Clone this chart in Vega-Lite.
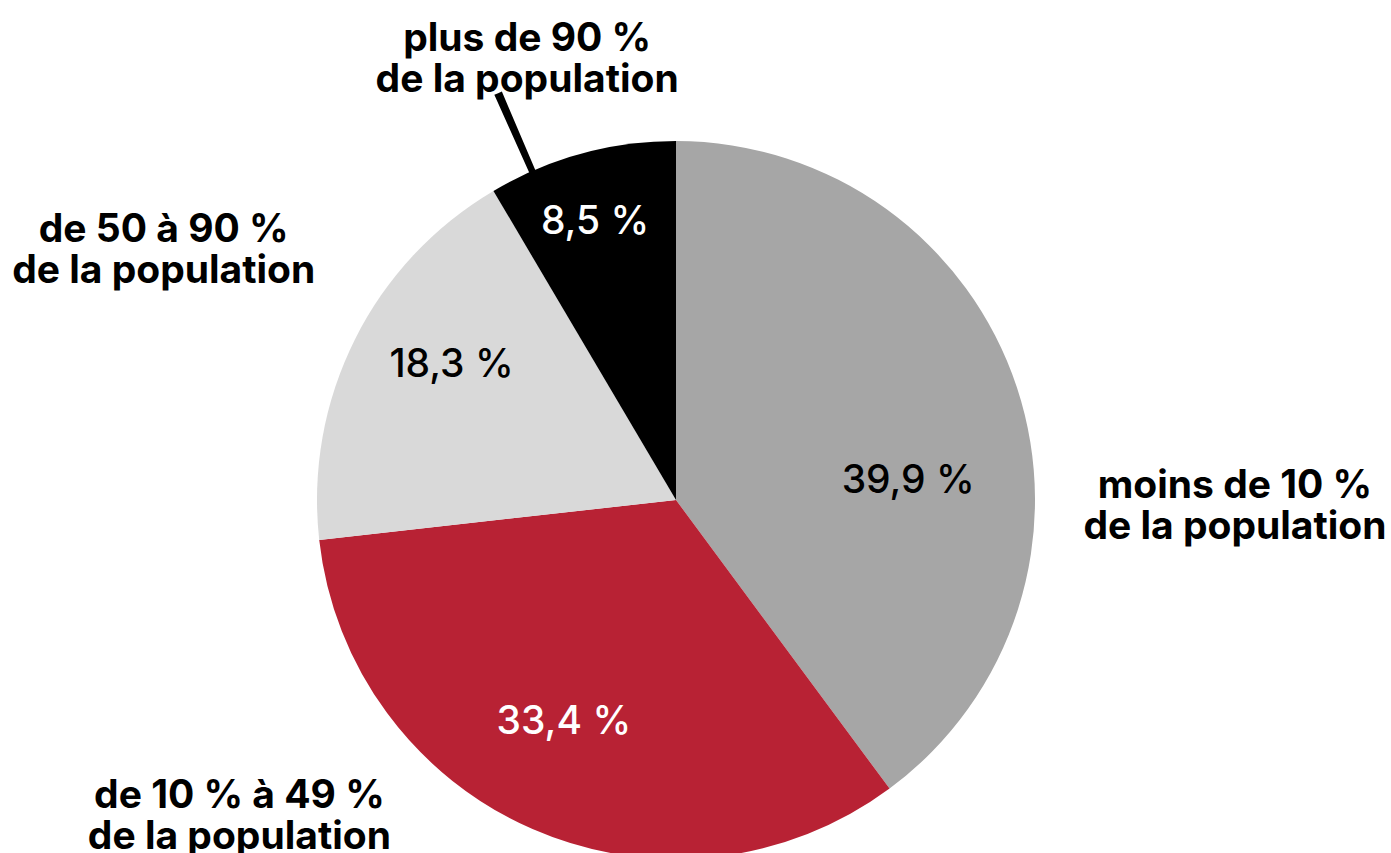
{
  "$schema": "https://vega.github.io/schema/vega-lite/v6.json",
  "width": 1352,
  "height": 706,
  "autosize": {"type": "none"},
  "padding": {"left": 0, "top": 147, "right": 39, "bottom": 0},
  "background": "white",
  "config": {"view": {"stroke": null}, "text": {"font": "Inter"}},
  "data": {
    "values": [
      {"ord": 1, "cat": "moins de 10 %", "label": "moins de 10 %\nde la population", "pct": 39.9, "val": "39,9 %"},
      {"ord": 2, "cat": "de 10 % à 49 %", "label": "de 10 % à 49 %\nde la population", "pct": 33.4, "val": "33,4 %"},
      {"ord": 3, "cat": "de 50 à 90 %", "label": "de 50 à 90 %\nde la population", "pct": 18.3, "val": "18,3 %"},
      {"ord": 4, "cat": "plus de 90 %", "label": "plus de 90 %\nde la population", "pct": 8.5, "val": "8,5 %"}
    ]
  },
  "encoding": {
    "theta": {"field": "pct", "type": "quantitative", "stack": true},
    "order": {"field": "ord", "type": "quantitative", "sort": "ascending"}
  },
  "layer": [
    {
      "mark": {"type": "arc", "radius": 359},
      "encoding": {
        "color": {"field": "cat", "type": "nominal", "legend": null,
          "scale": {"domain": ["moins de 10 %", "de 10 % à 49 %", "de 50 à 90 %", "plus de 90 %"],
                    "range": ["#a6a6a6", "#b82234", "#d9d9d9", "#000000"]}}
      }
    },
    {
      "transform": [
        {"stack": "pct", "groupby": [], "sort": [{"field": "ord", "order": "ascending"}], "as": ["s0", "s1"]}
      ],
      "mark": {"type": "arc", "radius": 444, "radius2": 352, "thetaOffset": 0.112, "theta2Offset": -0.403},
      "encoding": {
        "theta": {"field": "s0", "type": "quantitative", "stack": null},
        "theta2": {"field": "s1"},
        "fill": {"condition": {"test": "datum.ord === 4", "value": "#000000"}, "value": "transparent"}
      }
    },
    {
      "mark": {"type": "text", "radius": 233, "thetaOffset": 0.236, "fontSize": 39, "fontWeight": 500, "fill": "#000000"},
      "encoding": {"text": {"condition": {"test": "datum.ord === 1", "field": "val"}, "value": ""}}
    },
    {
      "mark": {"type": "text", "radius": 249, "thetaOffset": 0.056, "fontSize": 39, "fontWeight": 500, "fill": "#ffffff"},
      "encoding": {"text": {"condition": {"test": "datum.ord === 2", "field": "val"}, "value": ""}}
    },
    {
      "mark": {"type": "text", "radius": 262, "thetaOffset": 0.079, "fontSize": 39, "fontWeight": 500, "fill": "#000000"},
      "encoding": {"text": {"condition": {"test": "datum.ord === 3", "field": "val"}, "value": ""}}
    },
    {
      "mark": {"type": "text", "radius": 290, "thetaOffset": -0.016, "fontSize": 39, "fontWeight": 500, "fill": "#ffffff"},
      "encoding": {"text": {"condition": {"test": "datum.ord === 4", "field": "val"}, "value": ""}}
    },
    {
      "mark": {"type": "text", "radius": 559, "thetaOffset": 0.330, "dy": -20, "fontSize": 39, "fontWeight": "bold", "fill": "#000000", "lineBreak": "\n", "lineHeight": 41},
      "encoding": {"text": {"condition": {"test": "datum.ord === 1", "field": "label"}, "value": ""}}
    },
    {
      "mark": {"type": "text", "radius": 539, "thetaOffset": 0.533, "dy": -20, "fontSize": 39, "fontWeight": "bold", "fill": "#000000", "lineBreak": "\n", "lineHeight": 41},
      "encoding": {"text": {"condition": {"test": "datum.ord === 2", "field": "label"}, "value": ""}}
    },
    {
      "mark": {"type": "text", "radius": 570, "thetaOffset": -0.009, "dy": -20, "fontSize": 39, "fontWeight": "bold", "fill": "#000000", "lineBreak": "\n", "lineHeight": 41},
      "encoding": {"text": {"condition": {"test": "datum.ord === 3", "field": "label"}, "value": ""}}
    },
    {
      "mark": {"type": "text", "radius": 465, "thetaOffset": -0.059, "dy": -20, "fontSize": 39, "fontWeight": "bold", "fill": "#000000", "lineBreak": "\n", "lineHeight": 41},
      "encoding": {"text": {"condition": {"test": "datum.ord === 4", "field": "label"}, "value": ""}}
    }
  ]
}
